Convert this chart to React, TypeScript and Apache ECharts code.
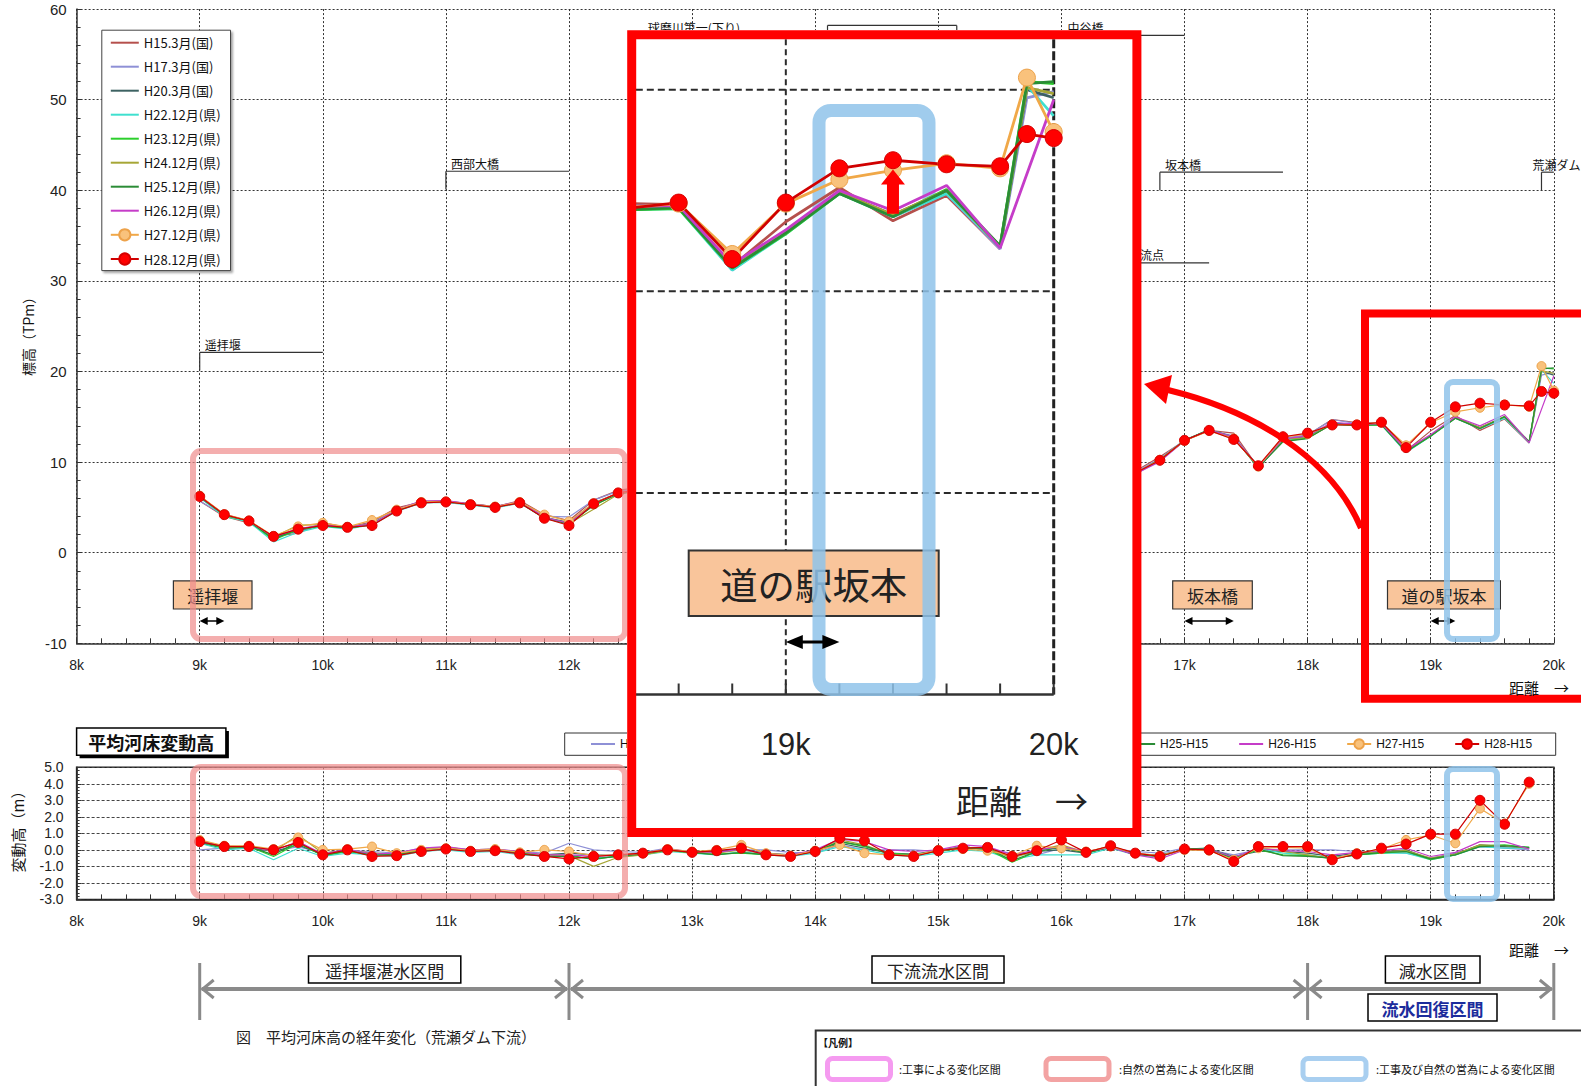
import React, { useEffect, useRef } from 'react';
import * as echarts from 'echarts';

const CJK = "'Noto Sans CJK JP', 'Noto Sans', sans-serif";
const NUM = "'Liberation Sans', Arial, sans-serif";

// Survey cross-sections (km from the river mouth), every 200 m
const KM = [
  9.0, 9.2, 9.4, 9.6, 9.8, 10.0, 10.2, 10.4, 10.6, 10.8,
  11.0, 11.2, 11.4, 11.6, 11.8, 12.0, 12.2, 12.4, 12.6, 12.8,
  13.0, 13.2, 13.4, 13.6, 13.8, 14.0, 14.2, 14.4, 14.6, 14.8,
  15.0, 15.2, 15.4, 15.6, 15.8, 16.0, 16.2, 16.4, 16.6, 16.8,
  17.0, 17.2, 17.4, 17.6, 17.8, 18.0, 18.2, 18.4, 18.6, 18.8,
  19.0, 19.2, 19.4, 19.6, 19.8,
];
// extra upstream sections just below the dam (not surveyed in H15)
const KM_UPSTREAM = [19.9, 20.0];
// tick marks along the close-up's distance axis
const INSET_TICKS = [18.6, 18.8, 19.0, 19.2, 19.4, 19.6, 19.8, 20.0];

const SURVEY_NAMES = [
  'H15.3月(国)', 'H17.3月(国)', 'H20.3月(国)', 'H22.12月(県)', 'H23.12月(県)',
  'H24.12月(県)', 'H25.12月(県)', 'H26.12月(県)', 'H27.12月(県)', 'H28.12月(県)',
];
const SURVEY_COLORS = [
  '#b5504c', '#8e90d6', '#3d6262', '#3fe0cf', '#2ccf2c',
  '#a6a636', '#2b8c36', '#c53cc8', '#f0a848', '#d00000',
];
const DIFF_NAMES = ['H17-H15', 'H20-H15', 'H22-H15', 'H23-H15', 'H24-H15', 'H25-H15', 'H26-H15', 'H27-H15', 'H28-H15'];

// mean bed elevation, H15.3 survey (TPm)
const H15_BED = [
  5.7, 4.0, 3.3, 1.8, 2.15, 3.3, 2.8, 3.4, 4.95, 5.6,
  5.55, 5.4, 5.05, 5.75, 4.2, 3.55, 5.8, 6.9, 7.2, 6.8,
  7.35, 7.55, 6.9, 7.9, 8.4, 7.9, 7.7, 7.65, 8.3, 8.9,
  8.85, 8.5, 8.75, 8.7, 9.05, 8.8, 8.85, 8.75, 9.0, 10.6,
  12.35, 13.5, 13.2, 9.4, 12.6, 13.0, 14.7, 14.35, 14.3, 11.25,
  13.45, 15.15, 13.5, 14.75, 12.1,
];

// change of mean bed height relative to H15 (m)
const D_H17 = [
  0.0, 0.1, 0.1, -0.1, 0.2, -0.2, -0.05, -0.1, -0.2, 0.1,
  0.15, 0.0, 0.05, -0.1, -0.2, 0.4, 0.0, -0.1, -0.15, 0.1,
  -0.2, -0.1, 0.0, 0.0, -0.15, -0.2, 0.3, 0.0, 0.0, 0.0,
  -0.1, 0.2, 0.0, -0.2, -0.3, 0.1, -0.1, 0.1, -0.1, -0.2,
  0.1, 0.0, -0.3, 0.0, 0.0, 0.0, 0.0, -0.1, -0.1, -0.2,
  -0.5, -0.2, 0.2, 0.1, 0.0,
];
const D_H20 = [
  0.4, 0.1, 0.15, -0.1, 0.3, -0.3, -0.1, -0.2, -0.3, -0.1,
  0.05, -0.1, -0.05, -0.2, -0.3, -0.2, -0.3, -0.35, -0.2, 0.0,
  -0.1, -0.1, 0.05, -0.2, -0.3, -0.1, 0.4, 0.1, -0.2, -0.25,
  -0.05, 0.2, 0.0, -0.4, -0.1, 0.0, -0.2, 0.15, -0.25, -0.3,
  0.0, 0.05, -0.4, -0.1, -0.1, -0.2, -0.4, -0.2, -0.1, 0.0,
  -0.55, -0.25, 0.3, 0.2, 0.1,
];
const D_H22 = [
  0.4, 0.0, 0.1, -0.6, 0.1, -0.4, -0.2, -0.3, -0.4, -0.1,
  0.0, -0.15, -0.1, -0.3, -0.35, -0.4, -0.5, -0.4, -0.3, -0.1,
  -0.2, -0.3, -0.1, -0.3, -0.4, -0.2, 0.2, 0.0, -0.3, -0.4,
  -0.2, 0.0, -0.1, -0.6, -0.3, -0.3, -0.3, 0.1, -0.3, -0.4,
  0.0, 0.1, -0.5, 0.1, -0.2, -0.3, -0.5, -0.3, -0.2, -0.2,
  -0.6, -0.3, 0.2, 0.1, 0.1,
];
const D_H23 = [
  0.5, 0.1, 0.2, -0.4, 0.4, -0.35, -0.1, -0.3, -0.3, 0.0,
  0.1, -0.05, 0.0, -0.2, -0.4, -0.3, -0.6, -0.35, -0.25, 0.0,
  -0.2, -0.25, -0.2, -0.3, -0.3, -0.1, 0.5, 0.2, -0.2, -0.3,
  -0.1, 0.1, 0.05, -0.75, -0.1, 0.2, -0.2, 0.2, -0.3, -0.35,
  0.0, 0.1, -0.5, 0.0, -0.3, -0.35, -0.5, -0.3, -0.2, -0.1,
  -0.6, -0.3, 0.25, 0.3, 0.15,
];
const D_H24 = [
  0.6, 0.15, 0.25, -0.1, 0.9, -0.2, 0.0, -0.2, -0.25, 0.05,
  0.15, 0.0, 0.05, -0.15, -0.3, -0.35, -1.0, -0.45, -0.3, -0.05,
  -0.15, -0.2, 0.0, -0.25, -0.35, -0.05, 0.6, 0.3, -0.25, -0.35,
  -0.05, 0.15, 0.1, -0.5, -0.05, 0.3, -0.15, 0.25, -0.25, -0.4,
  0.05, 0.05, -0.6, 0.15, -0.1, -0.3, -0.55, -0.25, -0.1, -0.05,
  -0.5, -0.25, 0.3, 0.25, 0.1,
];
const D_H25 = [
  0.45, 0.2, 0.2, -0.3, 0.5, -0.35, -0.05, -0.3, -0.3, -0.05,
  0.1, -0.05, 0.0, -0.2, -0.4, -0.4, -0.55, -0.4, -0.25, 0.0,
  -0.15, -0.3, -0.15, -0.3, -0.35, -0.1, 0.5, 0.25, -0.25, -0.35,
  -0.05, 0.1, 0.1, -0.65, -0.1, 0.15, -0.2, 0.2, -0.3, -0.4,
  0.05, 0.1, -0.55, 0.05, -0.35, -0.4, -0.5, -0.3, -0.15, -0.1,
  -0.55, -0.3, 0.2, 0.25, 0.15,
];
const D_H26 = [
  0.5, 0.25, 0.2, -0.05, 0.5, -0.25, 0.05, -0.25, -0.2, 0.1,
  0.2, 0.0, 0.05, -0.1, -0.3, -0.3, -0.4, -0.3, -0.2, 0.05,
  -0.1, -0.15, 0.05, -0.25, -0.3, 0.0, 0.65, 0.5, 0.0, -0.1,
  0.0, 0.3, 0.2, -0.3, 0.0, 0.2, -0.1, 0.15, -0.3, -0.55,
  0.0, 0.05, -0.45, 0.1, -0.05, -0.1, -0.3, -0.15, -0.05, 0.1,
  -0.4, -0.15, 0.5, 0.5, 0.05,
];
const D_H27 = [
  0.6, 0.25, 0.25, 0.05, 0.75, 0.0, 0.05, 0.2, -0.2, 0.0,
  0.1, -0.05, 0.05, -0.15, 0.0, -0.1, -0.35, -0.3, -0.2, 0.05,
  -0.1, 0.0, 0.3, -0.2, -0.35, -0.05, 0.3, -0.2, -0.3, -0.35,
  0.0, 0.05, -0.05, -0.35, 0.25, 0.1, -0.1, 0.2, -0.2, -0.35,
  0.0, -0.05, -0.6, 0.1, 0.15, 0.1, -0.55, -0.2, 0.05, 0.6,
  0.9, 0.4, 2.5, 1.6, 4.0,
];
const D_H28 = [
  0.5, 0.2, 0.2, 0.0, 0.45, -0.3, 0.0, -0.4, -0.35, -0.1,
  0.05, -0.1, -0.05, -0.25, -0.4, -0.55, -0.4, -0.3, -0.2, 0.0,
  -0.15, -0.05, 0.1, -0.3, -0.4, -0.1, 0.7, 0.55, -0.3, -0.4,
  -0.05, 0.1, 0.15, -0.4, -0.05, 0.6, -0.15, 0.25, -0.2, -0.4,
  0.05, 0.0, -0.7, 0.2, 0.2, 0.2, -0.6, -0.25, 0.1, 0.35,
  0.95, 0.95, 3.0, 1.55, 4.1,
];

// bed elevation at 19.9k / 20.0k (TPm)
const UP_H17 = [19.6, 19.9];
const UP_H20 = [20.0, 19.6];
const UP_H22 = [20.2, 18.7];
const UP_H23 = [20.4, 20.3];
const UP_H24 = [20.1, 19.8];
const UP_H25 = [20.3, 20.4];
const UP_H26 = [null, 19.5];
const UP_H27 = [20.6, 17.9];
const UP_H28 = [17.8, 17.6];

const LATER_DIFFS = [D_H17, D_H20, D_H22, D_H23, D_H24, D_H25, D_H26, D_H27, D_H28];
const LATER_UP = [UP_H17, UP_H20, UP_H22, UP_H23, UP_H24, UP_H25, UP_H26, UP_H27, UP_H28];

const round2 = (v: number) => Math.round(v * 100) / 100;

// elevation profile of each survey: H15 base plus its change
function elevationData(i: number): (number | null)[][] {
  if (i === 0) return KM.map((k, j) => [k, H15_BED[j]]);
  const d = LATER_DIFFS[i - 1];
  const pts: (number | null)[][] = KM.map((k, j) => [k, round2(H15_BED[j] + d[j])]);
  KM_UPSTREAM.forEach((k, j) => pts.push([k, LATER_UP[i - 1][j]]));
  return pts;
}

function diffData(i: number): number[][] {
  const d = LATER_DIFFS[i - 1];
  return KM.map((k, j) => [k, d[j]]);
}

function lineStyleFor(i: number, inset: boolean): any {
  const color = SURVEY_COLORS[i];
  const s: any = {
    type: 'line',
    name: SURVEY_NAMES[i],
    color,
    lineStyle: { color, width: inset ? 2.8 : 1.2 },
    symbol: i >= 8 ? 'circle' : 'none',
    symbolSize: inset ? 17 : i === 9 ? 10 : 9,
    connectNulls: true,
    silent: true,
    z: inset ? 60 : 2,
  };
  if (i === 8) s.itemStyle = { color: '#f9c27c', borderColor: '#eda24a', borderWidth: 1 };
  if (i === 9) s.itemStyle = { color: '#ff0000', borderColor: '#d60000', borderWidth: 1 };
  return s;
}

// legend entries: plain line for surveys drawn without markers
const legendItems = (names: string[], firstMarked: number) =>
  names.map((n, i) => (i >= firstMarked ? n : { name: n, itemStyle: { opacity: 0 } }));

function buildOption(): any {
  const series: any[] = [];
  for (let i = 0; i < 10; i++) {
    series.push({ ...lineStyleFor(i, false), xAxisIndex: 0, yAxisIndex: 0, data: elevationData(i) });
  }
  for (let i = 1; i < 10; i++) {
    series.push({ ...lineStyleFor(i, false), name: DIFF_NAMES[i - 1], xAxisIndex: 1, yAxisIndex: 1, data: diffData(i) });
  }
  for (let i = 0; i < 10; i++) {
    series.push({ ...lineStyleFor(i, true), xAxisIndex: 2, yAxisIndex: 2, data: elevationData(i) });
  }

  const gridLine = { show: true, lineStyle: { type: [2, 2], color: '#333', width: 1 } };
  const kmLabel = { formatter: (v: number) => `${v}k`, fontSize: 14, color: '#222', margin: 15, fontFamily: NUM };

  return {
    animation: false,
    backgroundColor: '#fff',
    grid: [
      { left: 76.6, right: 27.2, top: 9.1, bottom: 442.7, outerBoundsMode: 'none' },
      { left: 76.6, right: 27.2, top: 767.3, bottom: 186.6, show: true, borderColor: '#222', borderWidth: 1.5, outerBoundsMode: 'none' },
      { left: 635.8, right: 527.3, top: 39.3, bottom: 391.5, outerBoundsMode: 'none' },
    ],
    xAxis: [
      {
        type: 'value', gridIndex: 0, min: 8, max: 20, interval: 1,
        axisLine: { show: true, onZero: false, lineStyle: { color: '#333', width: 1.5 } },
        axisTick: { show: true, inside: true, length: 5, lineStyle: { color: '#333' } },
        minorTick: { show: true, splitNumber: 5, length: 5, lineStyle: { color: '#333' } },
        axisLabel: kmLabel,
        splitLine: gridLine,
      },
      {
        type: 'value', gridIndex: 1, min: 8, max: 20, interval: 1,
        axisLine: { show: true, onZero: false, lineStyle: { color: '#222', width: 1.5 } },
        axisTick: { show: true, inside: true, length: 5, lineStyle: { color: '#333' } },
        minorTick: { show: true, splitNumber: 5, length: 5, lineStyle: { color: '#333' } },
        axisLabel: kmLabel,
        splitLine: gridLine,
      },
      // close-up distance axis; its line and ticks are drawn in the overlay
      { type: 'value', gridIndex: 2, min: 18.44, max: 20, show: false },
    ],
    yAxis: [
      {
        type: 'value', gridIndex: 0, min: -10, max: 60, interval: 10,
        axisLine: { show: true, onZero: false, lineStyle: { color: '#333', width: 1.5 } },
        axisTick: { show: true, inside: true, length: 5, lineStyle: { color: '#333' } },
        minorTick: { show: true, splitNumber: 5, length: 4, lineStyle: { color: '#333' } },
        axisLabel: { fontSize: 15, color: '#222', margin: 10, fontFamily: NUM },
        splitLine: gridLine,
      },
      {
        type: 'value', gridIndex: 1, min: -3, max: 5, interval: 1,
        axisLine: { show: true, onZero: false, lineStyle: { color: '#222', width: 1.5 } },
        axisTick: { show: true, inside: true, length: 5, lineStyle: { color: '#333' } },
        minorTick: { show: true, splitNumber: 5, length: 3, lineStyle: { color: '#333' } },
        axisLabel: { fontSize: 14, color: '#222', margin: 13, fontFamily: NUM, formatter: (v: number) => v.toFixed(1) },
        splitLine: { show: true, lineStyle: { type: [3, 2], color: '#444', width: 1 } },
      },
      { type: 'value', gridIndex: 2, min: -10, max: 22.5, show: false },
    ],
    legend: [
      {
        data: legendItems(SURVEY_NAMES, 8), orient: 'vertical', left: 101.8, top: 30.2,
        padding: [6, 10, 5, 8], itemWidth: 28, itemHeight: 14, itemGap: 11,
        backgroundColor: '#fff', borderColor: '#444', borderWidth: 1,
        shadowColor: 'rgba(0,0,0,0.35)', shadowBlur: 2, shadowOffsetX: 2, shadowOffsetY: 2,
        textStyle: { fontSize: 13, fontFamily: CJK, color: '#111' },
        selectedMode: false, z: 4,
      },
      {
        data: legendItems(DIFF_NAMES, 7), orient: 'horizontal', left: 590, top: 738, padding: 0,
        itemWidth: 24, itemHeight: 12, itemGap: 30,
        textStyle: { fontSize: 12, fontFamily: NUM, color: '#111' },
        selectedMode: false, z: 4,
      },
    ],
    series,
  };
}

function buildGraphics(chart: any): any[] {
  const P = (g: number, x: number, y: number) => chart.convertToPixel({ gridIndex: g }, [x, y]) as number[];
  const els: any[] = [];

  const txt = (x: number, y: number, text: string, o: any = {}) => ({
    type: 'text', x, y, silent: true, z: o.z ?? 6,
    scaleX: o.sx ?? 1, scaleY: o.sy ?? 1, rotation: o.rot ?? 0,
    style: {
      text, fontSize: o.size ?? 12, fontFamily: o.family ?? CJK, fontWeight: o.weight ?? 'normal',
      fill: o.color ?? '#111', align: o.align ?? 'left', verticalAlign: o.va ?? 'middle',
    },
  });
  const ln = (x1: number, y1: number, x2: number, y2: number, stroke: string, w: number, z: number, dash?: number[]) => ({
    type: 'line', silent: true, z, shape: { x1, y1, x2, y2 },
    style: { stroke, lineWidth: w, lineDash: dash },
  });
  const rect = (x: number, y: number, w: number, h: number, o: any) => ({
    type: 'rect', silent: true, z: o.z ?? 6, shape: { x, y, width: w, height: h, r: o.r ?? 0 },
    style: { fill: o.fill ?? 'none', stroke: o.stroke ?? 'none', lineWidth: o.w ?? 1, opacity: o.op ?? 1 },
  });
  const poly = (points: number[][], fill: string, z: number) => ({
    type: 'polygon', silent: true, z, shape: { points }, style: { fill },
  });
  const dblArrow = (x1: number, x2: number, y: number, z: number, head: number, half: number, w: number) => {
    els.push(ln(x1 + head * 0.8, y, x2 - head * 0.8, y, '#000', w, z));
    els.push(poly([[x1, y], [x1 + head, y - half], [x1 + head, y + half]], '#000', z));
    els.push(poly([[x2, y], [x2 - head, y - half], [x2 - head, y + half]], '#000', z));
  };
  const labelBox = (x: number, y: number, w: number, h: number, text: string, z: number, o: any = {}) => {
    els.push(rect(x, y, w, h, { fill: '#f9c59b', stroke: '#333', w: o.bw ?? 1.2, z }));
    els.push(txt(x + w / 2, y + h / 2 + 1, text, { size: 17, align: 'center', z, sx: o.sx, sy: o.sy, color: '#222' }));
  };

  // ---- structure markers along the main profile ----
  const bracket = (k1: number, k2: number, v: number, vDrop: number, label: string, dx: number, bothEnds = false) => {
    const [x1, y] = P(0, k1, v);
    const [x2] = P(0, k2, v);
    const [, yd] = P(0, k1, vDrop);
    els.push(ln(x1, y, x2, y, '#333', 1.2, 5));
    els.push(ln(x1, y, x1, yd, '#333', 1.2, 5));
    if (bothEnds) els.push(ln(x2, y, x2, yd, '#333', 1.2, 5));
    if (label) els.push(txt(x1 + dx, y - 2, label, { size: 12, va: 'bottom', z: 5 }));
  };
  bracket(9.0, 10.0, 22.1, 20.1, '遥拝堰', 5);
  bracket(11.0, 12.0, 42.1, 40.1, '西部大橋', 5);
  bracket(12.6, 13.6, 57.1, 55.0, '球磨川第一(下り)', 5);
  bracket(14.1, 15.15, 58.2, 55.0, '', 0, true);
  bracket(16.0, 17.0, 57.1, 55.0, '中谷橋', 6);
  bracket(16.5, 17.2, 32.0, 30.0, '合流点', 5);
  bracket(16.8, 17.8, 42.0, 40.0, '坂本橋', 5);
  bracket(19.9, 20.0, 42.0, 40.0, '荒瀬ダム', -9);

  // reaches of change (main + lower chart)
  els.push(rect(193, 451, 432, 188, { stroke: '#f08c8c', w: 6, r: 8, op: 0.7, z: 10 }));
  els.push(rect(193, 767, 432, 129, { stroke: '#f08c8c', w: 6, r: 8, op: 0.7, z: 10 }));

  // location boxes with their extent arrows
  labelBox(173.4, 580.8, 78.6, 28.2, '遥拝堰', 8);
  labelBox(1172.7, 580.8, 79.6, 28.2, '坂本橋', 8);
  labelBox(1387.5, 580.8, 112.9, 28.2, '道の駅坂本', 8);
  const arrowY = 621;
  dblArrow(P(0, 9.0, 0)[0], P(0, 9.2, 0)[0], arrowY, 8, 8, 4, 1.5);
  dblArrow(P(0, 17.0, 0)[0], P(0, 17.4, 0)[0], arrowY, 8, 8, 4, 1.5);
  dblArrow(P(0, 19.0, 0)[0], P(0, 19.2, 0)[0], arrowY, 8, 8, 4, 1.5);

  els.push(rect(1447, 382, 50, 257, { stroke: '#8fc3ea', w: 6, r: 6, op: 0.85, z: 9 }));
  els.push(rect(1447, 769, 50, 130, { stroke: '#8fc3ea', w: 6, r: 6, op: 0.85, z: 9 }));

  // axis titles
  els.push(txt(28.2, 333, '標高（TPm）', { size: 14, rot: Math.PI / 2, align: 'center', z: 6 }));
  els.push(txt(17.1, 828, '変動高（m）', { size: 15, rot: Math.PI / 2, align: 'center', z: 6 }));
  els.push(txt(1509, 687, '距離　→', { size: 15, z: 31 }));
  els.push(txt(1509, 949, '距離　→', { size: 15, z: 6 }));

  // lower chart title box and legend frame
  els.push(rect(79.6, 731, 149.3, 27.3, { fill: '#000', z: 6 }));
  els.push(rect(76.6, 728, 149.3, 27.3, { fill: '#fff', stroke: '#000', w: 1.5, z: 7 }));
  els.push(txt(151.2, 742, '平均河床変動高', { size: 18, weight: 'bold', align: 'center', z: 7 }));
  els.push(rect(564.7, 733, 991, 22.3, { fill: '#fff', stroke: '#333', w: 1, z: 3 }));

  // highlighted reach on the right + pointer to the close-up
  els.push(rect(1365, 313.5, 300, 385.3, { stroke: '#ff0000', w: 8, z: 30 }));
  els.push({
    type: 'bezierCurve', silent: true, z: 30,
    shape: { x1: 1361, y1: 528, cpx1: 1330, cpy1: 455, cpx2: 1250, cpy2: 410, x2: 1168, y2: 390 },
    style: { stroke: '#ff0000', lineWidth: 6, fill: 'none' },
  });
  els.push(poly([[1144, 384], [1172, 375], [1166, 404]], '#ff0000', 30));

  // ---- close-up panel (18.44k–20k) ----
  els.push(rect(627, 30, 514, 807, { fill: '#fff', z: 50 }));
  [0, 10, 20].forEach((v) => {
    const [xa, y] = P(2, 18.44, v);
    const [xb] = P(2, 20, v);
    els.push(ln(xa, y, xb, y, '#2a2a2a', 2, 56, [7, 4]));
  });
  {
    const [x19, yt] = P(2, 19, 22.5);
    const [, yb] = P(2, 19, -10);
    els.push(ln(x19, yt, x19, yb, '#2a2a2a', 2, 56, [6, 4]));
    const [x20] = P(2, 20, 0);
    els.push(ln(x20, yt, x20, yb, '#222', 3, 56, [9, 3]));
    // distance axis of the close-up
    const xl = P(2, 18.44, -10)[0];
    els.push(ln(xl, yb, x20, yb, '#333', 2.5, 56));
    INSET_TICKS.forEach((k) => {
      const xt = P(2, k, -10)[0];
      els.push(ln(xt, yb, xt, yb - 11, '#333', 2, 56));
    });
    els.push(txt(x19, 744, '19k', { size: 14, family: NUM, align: 'center', sx: 2.2, sy: 2.2, z: 61, color: '#222' }));
    els.push(txt(x20, 744, '20k', { size: 14, family: NUM, align: 'center', sx: 2.2, sy: 2.2, z: 61, color: '#222' }));
  }
  els.push(txt(1022, 800, '距離　→', { size: 15, align: 'center', sx: 2.2, sy: 2.2, z: 61, color: '#222' }));

  labelBox(688.7, 550.5, 250, 65.5, '道の駅坂本', 57, { sx: 2.2, sy: 2.2, bw: 2 });
  els.push(rect(819, 110.4, 110, 579, { stroke: '#8fc3ea', w: 13, r: 12, op: 0.85, z: 58 }));
  {
    const x0 = P(2, 19.0, 0)[0];
    const x1 = P(2, 19.2, 0)[0];
    dblArrow(x0, x1, 642, 61, 17, 7, 3);
    const xa = P(2, 19.4, 0)[0];
    els.push(poly([[xa, 169.4], [xa + 12, 184.5], [xa + 6, 184.5], [xa + 6, 213.8], [xa - 6, 213.8], [xa - 6, 184.5], [xa - 12, 184.5]], '#ff0000', 61));
  }
  els.push(rect(631.7, 34.7, 505.2, 797.8, { stroke: '#ff0000', w: 9, z: 100 }));

  // ---- river reach classification below the charts ----
  const kx = (k: number) => P(1, k, 0)[0];
  [9, 12, 18, 20].forEach((k) => els.push(ln(kx(k), 963, kx(k), 1020, '#8a8a8a', 3, 6)));
  [[9, 12], [12, 18], [18, 20]].forEach(([a, b]) => {
    const xa = kx(a) + 2;
    const xb = kx(b) - 2;
    els.push(ln(xa, 989, xb, 989, '#8a8a8a', 4, 6));
    els.push({ type: 'polyline', silent: true, z: 6, shape: { points: [[xa + 12, 980], [xa + 1, 989], [xa + 12, 998]] }, style: { stroke: '#8a8a8a', lineWidth: 3, fill: 'none' } });
    els.push({ type: 'polyline', silent: true, z: 6, shape: { points: [[xb - 12, 980], [xb - 1, 989], [xb - 12, 998]] }, style: { stroke: '#8a8a8a', lineWidth: 3, fill: 'none' } });
  });
  const reachBox = (x: number, y: number, w: number, text: string, color = '#222', weight = 'normal') => {
    els.push(rect(x, y, w, 27, { fill: '#fff', stroke: '#000', w: 1.5, z: 7 }));
    els.push(txt(x + w / 2, y + 14, text, { size: 17, align: 'center', z: 7, color, weight }));
  };
  reachBox(308.5, 956, 152.3, '遥拝堰湛水区間');
  reachBox(872, 956, 132, '下流流水区間');
  reachBox(1385.4, 956, 94.6, '減水区間');
  reachBox(1368, 994, 129, '流水回復区間', '#1c2c9c', 'bold');

  els.push(txt(236, 1036.5, '図　平均河床高の経年変化（荒瀬ダム下流）', { size: 15, z: 6, color: '#222' }));

  // legend of the highlight frames
  els.push(rect(815.7, 1030.5, 800, 80, { fill: '#fff', stroke: '#333', w: 2, z: 6 }));
  els.push(txt(818, 1042, '【凡例】', { size: 10, weight: 'bold', z: 7 }));
  els.push(rect(827.5, 1058.5, 63, 21, { stroke: '#f59bf0', w: 5, r: 5, z: 7 }));
  els.push(rect(1046, 1058.5, 63, 21, { stroke: '#f3a3a3', w: 5, r: 5, z: 7 }));
  els.push(rect(1303, 1058.5, 63, 21, { stroke: '#a9cff0', w: 5, r: 5, z: 7 }));
  els.push(txt(899, 1069, ':工事による変化区間', { size: 11, z: 7 }));
  els.push(txt(1119, 1069, ':自然の営為による変化区間', { size: 11, z: 7 }));
  els.push(txt(1376, 1069, ':工事及び自然の営為による変化区間', { size: 11, z: 7 }));

  return els;
}

const App = () => {
  const ref = useRef<HTMLDivElement>(null);
  useEffect(() => {
    if (!ref.current) return;
    const chart = echarts.init(ref.current, null, { renderer: 'svg' });
    chart.setOption(buildOption());
    chart.setOption({ graphic: buildGraphics(chart) });
    return () => chart.dispose();
  }, []);
  return <div ref={ref} style={{ position: 'absolute', left: 0, top: 0, width: 1581, height: 1086 }} />;
};

export default App;
